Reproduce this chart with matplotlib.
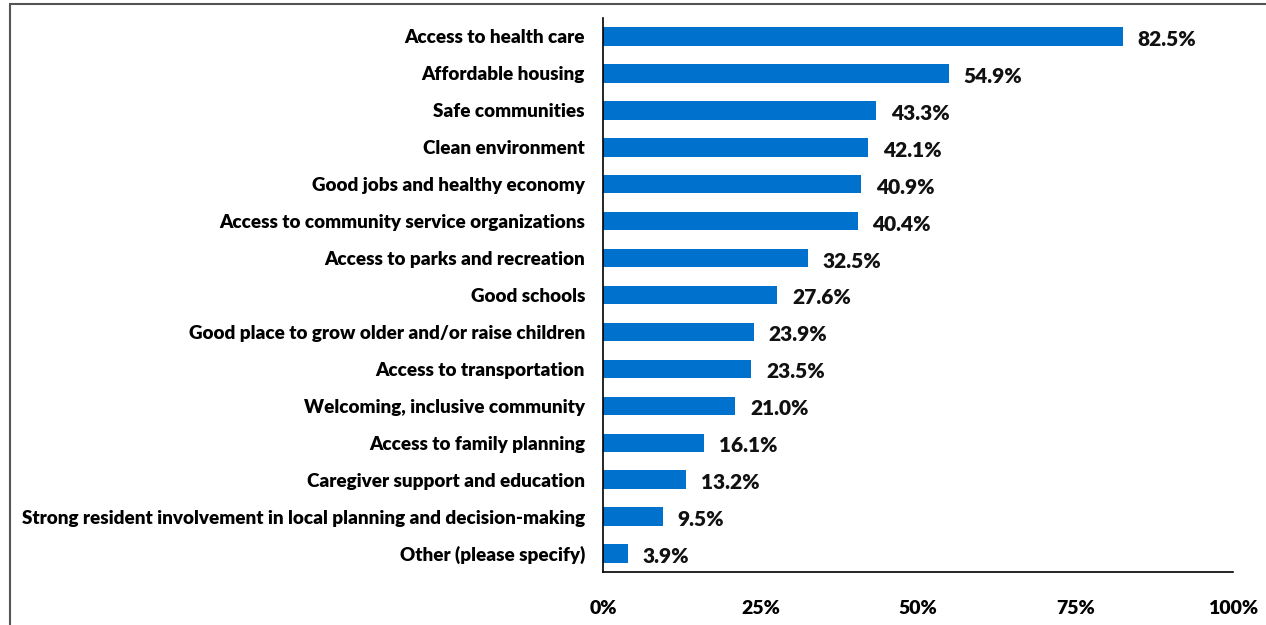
import matplotlib
matplotlib.use("Agg")
import matplotlib.pyplot as plt
from matplotlib.patches import Rectangle

categories = [
    "Access to health care",
    "Affordable housing",
    "Safe communities",
    "Clean environment",
    "Good jobs and healthy economy",
    "Access to community service organizations",
    "Access to parks and recreation",
    "Good schools",
    "Good place to grow older and/or raise children",
    "Access to transportation",
    "Welcoming, inclusive community",
    "Access to family planning",
    "Caregiver support and education",
    "Strong resident involvement in local planning and decision-making",
    "Other (please specify)",
]
values = [82.5, 54.9, 43.3, 42.1, 40.9, 40.4, 32.5, 27.6, 23.9, 23.5, 21.0, 16.1, 13.2, 9.5, 3.9]
tick_values = [0, 25, 50, 75, 100]
tick_labels = ["0%", "25%", "50%", "75%", "100%"]

plt.rcParams['font.family'] = ['Lato', 'DejaVu Sans']

fig = plt.figure(figsize=(12.66, 6.25), dpi=100)
ax = fig.add_axes([603/1266, 1-572/625, (1233-603)/1266, (572-18)/625])

y = list(range(len(categories)))
ax.barh(y, values, height=0.5, color='#0072CE')
ax.set_ylim(len(categories) - 0.5, -0.5)
ax.set_xlim(0, 100)

ax.set_yticks(y)
ax.set_yticklabels(categories, fontsize=13.6, fontweight='heavy')
ax.set_xticks(tick_values)
ax.set_xticklabels(tick_labels, fontsize=14, fontweight='heavy')
ax.tick_params(axis='both', length=0)
ax.tick_params(axis='y', pad=13)
ax.tick_params(axis='x', pad=20)

for s in ['top', 'right']:
    ax.spines[s].set_visible(False)
for s in ['left', 'bottom']:
    ax.spines[s].set_color('black')
    ax.spines[s].set_linewidth(1.2)

for yi, v in zip(y, values):
    ax.annotate(f"{v:.1f}%", xy=(v, yi), xytext=(15, -3), textcoords='offset pixels',
                ha='left', va='center', fontsize=15, fontweight='heavy', color='#111111')

# outer frame (partially cropped in the reference)
fig.patches.append(Rectangle((10/1266, -0.1), 1.2, 1 - 4/625 + 0.1, transform=fig.transFigure,
                             fill=False, edgecolor='#555555', linewidth=1.5))

fig.savefig("out.png", dpi=100)
